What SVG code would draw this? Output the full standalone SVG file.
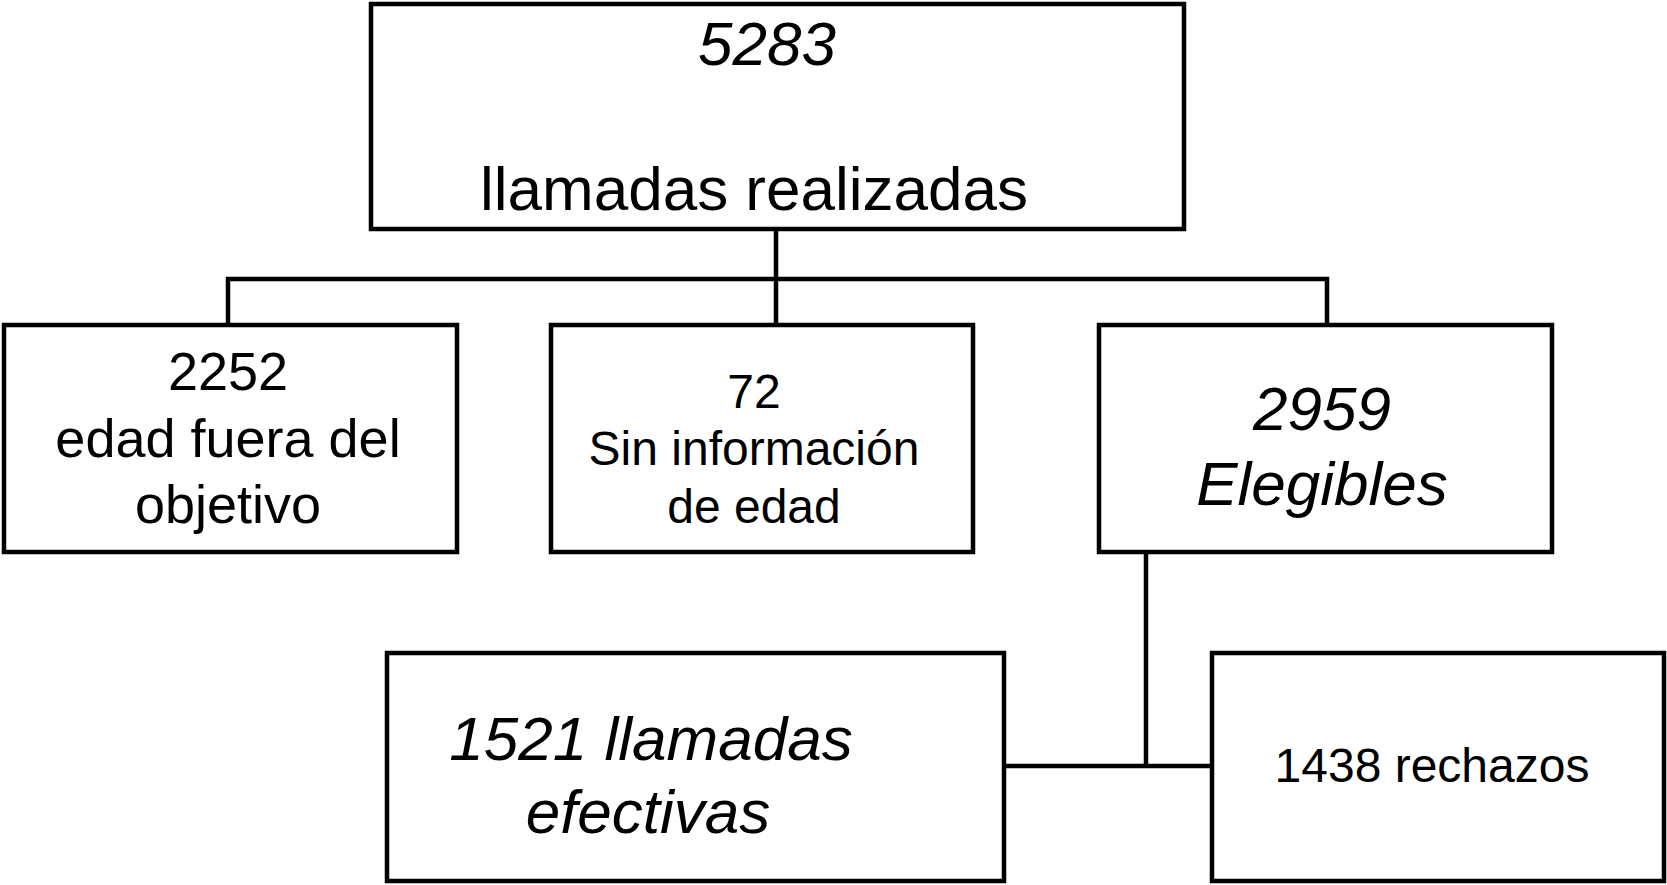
<svg xmlns="http://www.w3.org/2000/svg" width="1667" height="885" viewBox="0 0 1667 885">
<style>
.box{fill:#fff;stroke:#000;stroke-width:4.5}
.t{font-family:"Liberation Sans",Arial,sans-serif;fill:#000;text-anchor:middle}
.i{font-style:italic}
.conn{fill:none;stroke:#000;stroke-width:4.5;stroke-linecap:square}
</style>
<rect width="1667" height="885" fill="#fff"/>
<g id="connectors">
<path class="conn" d="M776 229 V279 M228 324 V279 H1327 V324 M776 279 V324"/>
<path class="conn" d="M1146 553 V766 M1004 766 H1212"/>
</g>
<g id="n-total">
<rect class="box" x="371" y="4" width="813" height="225"/>
<text class="t i" x="767" y="65" font-size="62">5283</text>
<text class="t" x="754" y="210" font-size="62">llamadas realizadas</text>
</g>
<g id="n-fuera">
<rect class="box" x="4" y="325" width="453" height="227"/>
<text class="t" x="228" y="390" font-size="54">2252</text>
<text class="t" x="228" y="457" font-size="54">edad fuera del</text>
<text class="t" x="228" y="523" font-size="54">objetivo</text>
</g>
<g id="n-sininfo">
<rect class="box" x="551" y="325" width="422" height="227"/>
<text class="t" x="754" y="408" font-size="48">72</text>
<text class="t" x="754" y="465" font-size="48">Sin información</text>
<text class="t" x="754" y="523" font-size="48">de edad</text>
</g>
<g id="n-elegibles">
<rect class="box" x="1099" y="325" width="453" height="227"/>
<text class="t i" x="1322" y="430" font-size="62">2959</text>
<text class="t i" x="1322" y="505" font-size="62">Elegibles</text>
</g>
<g id="n-efectivas">
<rect class="box" x="387" y="653" width="617" height="228"/>
<text class="t i" x="651" y="760" font-size="62">1521 llamadas</text>
<text class="t i" x="648" y="833" font-size="62">efectivas</text>
</g>
<g id="n-rechazos">
<rect class="box" x="1212" y="653" width="452" height="228"/>
<text class="t" x="1432" y="782" font-size="48">1438 rechazos</text>
</g>
</svg>
